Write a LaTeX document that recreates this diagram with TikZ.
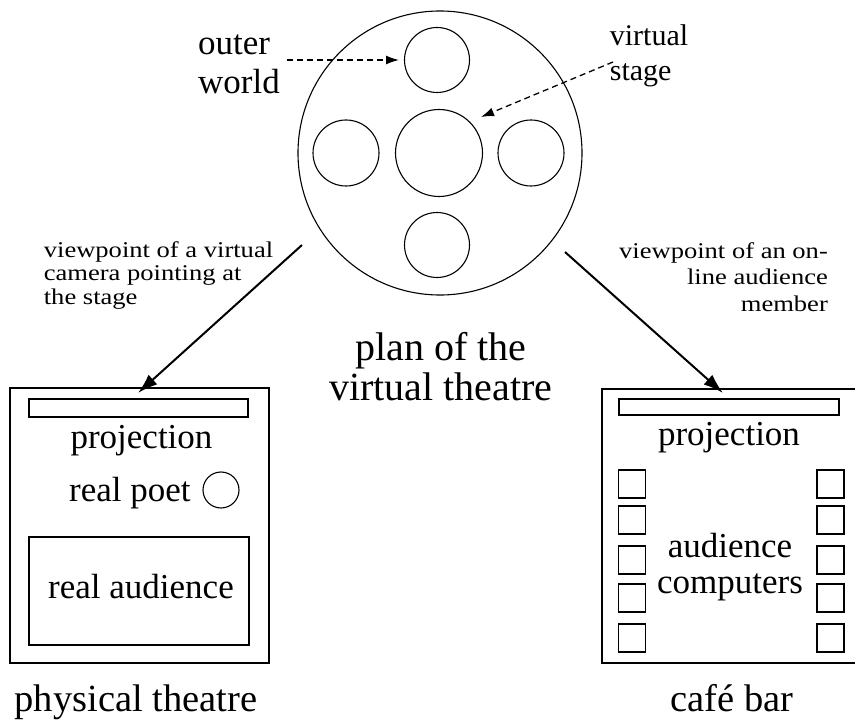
\documentclass[tikz,border=0pt]{standalone}
\usepackage{fontspec}
\setmainfont{Liberation Serif}
\newfontfamily\stretchserif[FakeStretch=1.18]{Liberation Serif}
\usetikzlibrary{arrows.meta}
\begin{document}
\begin{tikzpicture}[x=1pt,y=-1pt,
  ring/.style={draw, circle, inner sep=0pt, line width=1.1pt},
  boxshape/.style={draw, rectangle, inner sep=0pt, line width=1.1pt},
  sq/.style={draw, rectangle, inner sep=0pt, line width=1.1pt, minimum width=27pt, minimum height=28pt},
  bigtext/.style={font=\fontsize{40}{40}\selectfont, inner sep=0pt},
  midtext/.style={font=\fontsize{35}{36}\selectfont, inner sep=0pt},
  smalltext/.style={font=\stretchserif\fontsize{22.5}{23.5}\selectfont, inner sep=0pt},
  thickarrow/.style={line width=2pt, -{Latex[length=20pt,width=13pt]}},
  dasharrow/.style={line width=1.3pt, dash pattern=on 6pt off 4pt, -{Latex[length=13pt,width=9pt]}}
]
\useasboundingbox (0,0) rectangle (855,722);

% plan of the virtual theatre
\node[ring, minimum size=284pt] (plan) at (440,153) {};
\node[ring, minimum size=65pt] (ow) at (437,60) {};
\node[ring, minimum size=87pt] (vs) at (439,153) {};
\node[ring, minimum size=66pt] (cl) at (346,153) {};
\node[ring, minimum size=66pt] (cr) at (531,153) {};
\node[ring, minimum size=65pt] (cb) at (437,245) {};

\node[midtext, align=left] (owlabel) at (239,64.5) {outer\\[3pt]world};
\node[font=\fontsize{30}{35}\selectfont, inner sep=0pt, align=left] (vslabel) at (649,56) {virtual\\stage};
\coordinate (owfrom) at (287,60);
\coordinate (owto) at (399,60);
\draw[dasharrow] (owfrom) -- (owto);
\coordinate (vsfrom) at (613,62);
\coordinate (vsto) at (481,117);
\draw[dasharrow] (vsfrom) -- (vsto);

\node[bigtext, align=center] (plantitle) at (441,367) {plan of the\\virtual theatre};

% viewpoint labels and arrows
\node[smalltext, align=left] (vp1) at (158.5,275.2) {viewpoint of a virtual\\camera pointing at\\the stage};
\node[smalltext, align=right, font=\stretchserif\fontsize{22.5}{26.5}\selectfont] (vp2) at (723.5,277) {viewpoint of an on-\\line audience\\member};

\coordinate (a1s) at (302,245);
\coordinate (a1e) at (138,393);
\draw[thickarrow] (a1s) -- (a1e);
\coordinate (a2s) at (565,252);
\coordinate (a2e) at (723,393);
\draw[thickarrow] (a2s) -- (a2e);

% physical theatre
\node[boxshape, minimum width=259pt, minimum height=275pt] (phys) at (139.5,525.5) {};
\node[boxshape, minimum width=219pt, minimum height=18pt] (projbar1) at (138.5,408) {};
\node[midtext, anchor=base] (proj1) at (141.5,448) {projection};
\node[midtext, anchor=base west] (poet) at (69,501) {real poet};
\node[ring, minimum size=36pt] (poetcircle) at (221,490) {};
\node[boxshape, minimum width=220pt, minimum height=108pt] (audbox) at (139,591) {};
\node[midtext, anchor=base] (aud) at (141,598) {real audience};
\node[font=\fontsize{38.5}{40}\selectfont, inner sep=0pt, anchor=base] (physlabel) at (136,711) {physical theatre};

% cafe bar
\draw[line width=1.1pt] (855,389) -- (602,389) -- (602,663) -- (855,663);
\node[boxshape, minimum width=220pt, minimum height=16pt] (projbar2) at (729,407) {};
\node[midtext, anchor=base] (proj2) at (729,445) {projection};
\foreach \yy [count=\i] in {484,520,560,598,638} {
  \node[sq] (sl\i) at (632,\yy) {};
  \node[sq] (sr\i) at (830.5,\yy) {};
}
\node[midtext, align=center] (comp) at (730,567) {audience\\computers};
\node[font=\fontsize{38.5}{40}\selectfont, inner sep=0pt, anchor=base] (cafelabel) at (732,711) {café bar};
\end{tikzpicture}
\end{document}
